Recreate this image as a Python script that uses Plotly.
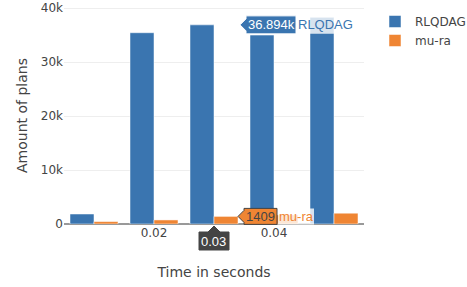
import plotly.graph_objects as go

# ---- data ----
times = [0.01, 0.02, 0.03, 0.04, 0.05]
rlqdag = [1850, 35440, 36894, 35000, 38290]
mura = [450, 750, 1409, 1700, 2000]
series_names = ["RLQDAG", "mu-ra"]
colors = ["#3A75B0", "#EF8533"]
ytick_vals = [0, 10000, 20000, 30000, 40000]
ytick_text = ["0", "10k", "20k", "30k", "40k"]

hover_idx = 2  # hovered x position (0.03)
FONT = "DejaVu Sans, Verdana, sans-serif"
HFONT = "Arial, Liberation Sans, sans-serif"

fig = go.Figure()
for name, vals, col in zip(series_names, [rlqdag, mura], colors):
    fig.add_trace(go.Bar(x=times, y=vals, name=name, marker_color=col,
                         marker_line=dict(color="white", width=0.5)))

# ---- static recreation of the hover labels ----
dx = times[1] - times[0]
bar_w = dx * 0.8 / 2
x_range = [times[0] - dx / 2, times[-1] + dx / 2]
y_range = [0, max(rlqdag) * 1.05]


def px(v):  # data x -> paper
    return (v - x_range[0]) / (x_range[1] - x_range[0])


def py(v):  # data y -> paper
    return (v - y_range[0]) / (y_range[1] - y_range[0])


x_tip = px(times[hover_idx] + bar_w)  # right edge of the hovered group


def fmt_k(v):
    return f"{v/1000:.3f}k" if v >= 10000 else f"{v}"


def hover_label(yval, text, name, bg, fg, border, w, nw, h=9, tipdx=2):
    x0 = tipdx
    ya = py(yval)
    path = (f"M{x0},0 L{x0+6},{6} L{x0+6},{h} L{x0+6+w},{h} L{x0+6+w},{-h} "
            f"L{x0+6},{-h} L{x0+6},{-6} Z")
    fig.add_shape(type="path", xref="paper", yref="paper", xsizemode="pixel",
                  ysizemode="pixel", xanchor=x_tip, yanchor=ya, path=path,
                  fillcolor=bg, line=dict(color=border, width=1), layer="above")
    npath = (f"M{x0+6+w+1},{h} L{x0+6+w+1+nw},{h} L{x0+6+w+1+nw},{-h} L{x0+6+w+1},{-h} Z")
    fig.add_shape(type="path", xref="paper", yref="paper", xsizemode="pixel",
                  ysizemode="pixel", xanchor=x_tip, yanchor=ya, path=npath,
                  fillcolor="rgba(255,255,255,0.8)", line=dict(width=0), layer="above")
    fig.add_annotation(x=x_tip, y=ya, xref="paper", yref="paper", text=text, showarrow=False,
                       xanchor="center", yanchor="middle", xshift=x0 + 6 + w / 2,
                       font=dict(family=HFONT, size=13, color=fg))
    fig.add_annotation(x=x_tip, y=ya, xref="paper", yref="paper", text=name, showarrow=False,
                       xanchor="left", yanchor="middle", xshift=x0 + 6 + w,
                       font=dict(family=HFONT, size=13, color=bg))


hover_label(rlqdag[hover_idx], fmt_k(rlqdag[hover_idx]), series_names[0], colors[0],
            "white", "white", 50, 46)
hover_label(mura[hover_idx], fmt_k(mura[hover_idx]), series_names[1], colors[1],
            "#444", "#444", 33, 36, h=8, tipdx=0)

# x spike label
xl = times[hover_idx]
fig.add_shape(type="path", xref="paper", yref="paper", xsizemode="pixel", ysizemode="pixel",
              xanchor=px(xl), yanchor=py(0),
              path="M0,-2 L6,-8 L15,-8 L15,-26 L-15,-26 L-15,-8 L-6,-8 Z",
              fillcolor="#444", line=dict(color="#444", width=1), layer="above")
fig.add_annotation(x=px(xl), y=py(0), xref="paper", yref="paper", text=f"{xl:.2f}",
                   showarrow=False, xanchor="center", yanchor="middle", yshift=-17,
                   font=dict(family=HFONT, size=13, color="white"))

fig.update_layout(
    width=467, height=287,
    margin=dict(l=64, r=103, t=7, b=63),
    paper_bgcolor="white", plot_bgcolor="white",
    font=dict(family=FONT, size=12, color="#444"),
    barmode="group",
    hovermode=False,
    showlegend=True,
    legend=dict(font=dict(size=12), xref="container", yref="container",
                x=0.803, y=0.9756, xanchor="left", yanchor="top"),
    xaxis=dict(title=dict(text="Time in seconds", font=dict(size=14), standoff=28),
               showgrid=False, zeroline=False, dtick=0.02, tick0=0, showline=False,
               automargin=False, range=x_range, autorange=False),
    yaxis=dict(title=dict(text="Amount of plans", font=dict(size=14), standoff=9),
               gridcolor="#eee", zeroline=True, zerolinecolor="#999", zerolinewidth=1.5,
               automargin=False, range=y_range, autorange=False,
               tickvals=ytick_vals, ticktext=ytick_text),
)

fig.write_html("out.html", config={"displayModeBar": False},
               post_script="document.body.style.margin='0';document.body.style.padding='0';")
